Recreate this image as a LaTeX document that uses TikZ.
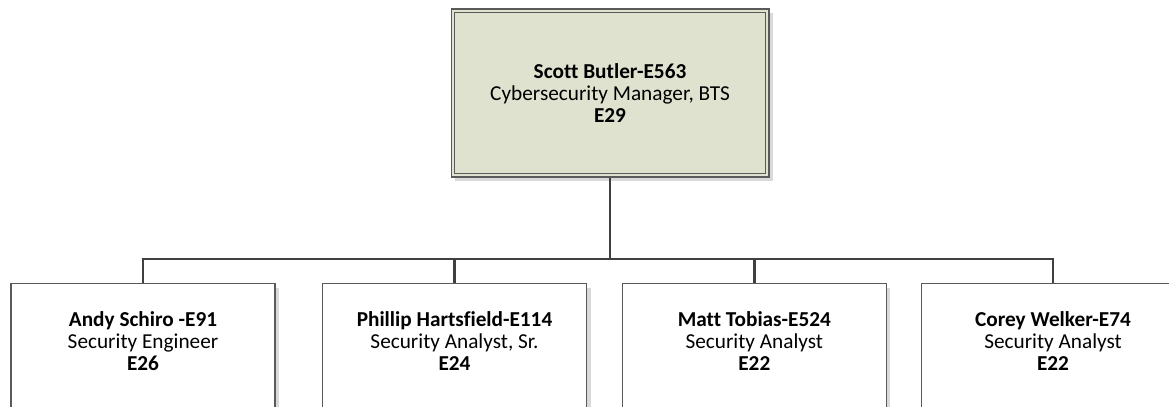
\documentclass[tikz,border=0pt]{standalone}
\usepackage{fontspec}
\setmainfont{Carlito}[Ligatures=NoCommon]
\usetikzlibrary{shadows,calc}

\definecolor{mgrfill}{RGB}{222,226,206}
\definecolor{boxline}{RGB}{90,90,90}
\definecolor{linkcol}{RGB}{64,64,64}

\tikzset{
    boxshadow/.style={drop shadow={shadow xshift=2.3pt, shadow yshift=-2.3pt, fill=gray!30, opacity=1}},
    mgrbox/.style={draw=boxline, line width=0.6pt, fill=mgrfill, minimum width=6.36cm, minimum height=3.36cm, align=center, font=\fontsize{12.1}{12.5}\selectfont, boxshadow},
    empbox/.style={draw=boxline, line width=0.6pt, fill=white, anchor=north, minimum width=5.28cm, minimum height=4cm, boxshadow},
    emptext/.style={align=center, font=\fontsize{12.1}{12.5}\selectfont},
    link/.style={draw=linkcol, line width=1.4pt}
}

\begin{document}
\begin{tikzpicture}[x=0.02cm, y=-0.02cm]
        \clip (0,0) rectangle (1169,406);
        \fill[white] (0,0) rectangle (1169,406);
        
        % Manager.
        \node[mgrbox] (mgr) at (610,93) {\textbf{Scott Butler-E563}\\Cybersecurity Manager, BTS\\\textbf{E29}};
        \draw[boxline, line width=0.6pt] ($(mgr.north west)+(4,4)$) rectangle ($(mgr.south east)+(-4,-4)$);
        
        \coordinate (bus) at (610,259);
        \draw[link] (mgr.south) -- (bus);
        
        % Team.
        \foreach \x/\nm/\job/\grd [count=\i] in {143/{Andy Schiro -E91}/{Security Engineer}/E26,
                454.5/{Phillip Hartsfield-E114}/{Security Analyst, Sr.}/E24,
                754.3/{Matt Tobias-E524}/{Security Analyst}/E22,
                1053/{Corey Welker-E74}/{Security Analyst}/E22} {
            \node[empbox] (e\i) at (\x,283) {};
            \node[emptext] (t\i) at (\x,341) {\textbf{\nm}\\\job\\\textbf{\grd}};
            \draw[link] (e\i.north) |- (bus);
        }
        
    \end{tikzpicture}
\end{document}
